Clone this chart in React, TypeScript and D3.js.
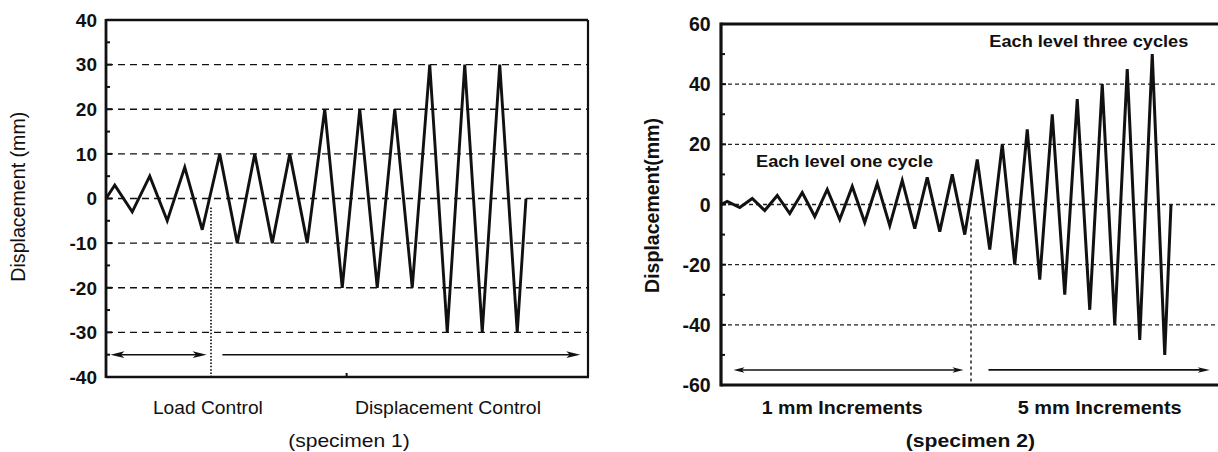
import React from 'react';
import * as d3 from 'd3';

// ---------- Specimen 1 (left) ----------
// time in quarter-cycles, displacement in mm
const time1 = [0, 1, 3, 5, 7, 9, 11, 13, 15, 17, 19, 21, 23, 25, 27, 29, 31, 33, 35, 37, 39, 41, 43, 45, 47, 48];
const disp1 = [0, 3, -3, 5, -5, 7, -7, 10, -10, 10, -10, 10, -10, 20, -20, 20, -20, 20, -20, 30, -30, 30, -30, 30, -30, 0];
const yTickLabels1 = [-40, -30, -20, -10, 0, 10, 20, 30, 40];
const yMinor1 = [-35, -25, -15, -5, 5, 15, 25, 35];
const grid1 = [-30, -20, -10, 0, 10, 20, 30];
const xTicks1 = [27.5];
const split1 = 12;

// ---------- Specimen 2 (right) ----------
const time2 = [0, 1, 3, 5, 7, 9, 11, 13, 15, 17, 19, 21, 23, 25, 27, 29, 31, 33, 35, 37, 39, 41, 43, 45, 47, 49, 51, 53, 55, 57, 59, 61, 63, 65, 67, 69, 71, 72];
const disp2 = [0, 1, -1, 2, -2, 3, -3, 4, -4, 5, -5, 6, -6, 7, -7, 8, -8, 9, -9, 10, -10, 15, -15, 20, -20, 25, -25, 30, -30, 35, -35, 40, -40, 45, -45, 50, -50, 0];
const yTickLabels2 = [-60, -40, -20, 0, 20, 40, 60];
const yMinor2 = [-50, -30, -10, 10, 30, 50];
const grid2 = [-40, -20, 0, 20, 40];
const split2 = 40;

const FONT = "'Liberation Sans', Arial, Helvetica, sans-serif";
const INK = '#111';

function arrowHead(x: number, y: number, dir: number, len: number, hw: number) {
  // dir: +1 pointing right, -1 pointing left; tip at (x,y)
  return `M${x},${y} L${x - dir * len},${y - hw} L${x - dir * len * 0.75},${y} L${x - dir * len},${y + hw} Z`;
}

export default function App() {
  const x1 = d3.scaleLinear().domain([0, 55]).range([106, 587.25]);
  const y1 = d3.scaleLinear().domain([-40, 40]).range([377, 20]);
  const x2 = d3.scaleLinear().domain([0, 80]).range([721, 1221]);
  const y2 = d3.scaleLinear().domain([-60, 60]).range([385, 24]);

  const line1 = d3.line<number>().x((_, i) => x1(time1[i])).y((d) => y1(d))(disp1) || '';
  const line2 = d3.line<number>().x((_, i) => x2(time2[i])).y((d) => y2(d))(disp2) || '';

  const L = { l: 106, r: 588, t: 20, b: 377 };
  const R = { l: 721, r: 1218, t: 24, b: 385 };

  const a1y = y1(-35);
  const a1L0 = x1(0.5), a1L1 = x1(11.5), a1R0 = x1(13.3), a1R1 = x1(54.2);
  const a2y = y2(-55);
  const a2L0 = x2(2), a2L1 = x2(38.8), a2R0 = x2(42.8), a2R1 = x2(78.2);

  return (
    <svg
      width={1218}
      height={452}
      style={{ position: 'absolute', left: 0, top: 0, background: '#fff' }}
      fontFamily={FONT}
    >
      <rect x={0} y={0} width={1218} height={452} fill="#fff" />

      {/* ===================== LEFT CHART ===================== */}
      <g>
        {grid1.map((v) => (
          <line key={'g1' + v} x1={L.l} x2={L.r} y1={y1(v)} y2={y1(v)} stroke="#111" strokeWidth={1.4} strokeDasharray="7 5" />
        ))}
        <line x1={x1(split1)} x2={x1(split1)} y1={y1(-2)} y2={L.b} stroke="#111" strokeWidth={1.7} strokeDasharray="1.5 1.8" />
        <line x1={L.l} x2={L.r} y1={L.t} y2={L.t} stroke={INK} strokeWidth={2.4} />
        <line x1={L.r} x2={L.r} y1={L.t} y2={L.b} stroke={INK} strokeWidth={2.2} />
        <line x1={L.l} x2={L.r + 1} y1={L.b} y2={L.b} stroke={INK} strokeWidth={2.6} />
        <line x1={L.l} x2={L.l} y1={L.t - 1} y2={L.b + 1} stroke={INK} strokeWidth={2.8} />
        {yMinor1.map((v) => (
          <line key={'m1' + v} x1={L.l} x2={L.l + 4} y1={y1(v)} y2={y1(v)} stroke={INK} strokeWidth={2} />
        ))}
        {yTickLabels1.map((v) => (
          <line key={'t1' + v} x1={L.l} x2={L.l + 6} y1={y1(v)} y2={y1(v)} stroke={INK} strokeWidth={2} />
        ))}
        {xTicks1.map((v) => (
          <line key={'x1' + v} x1={x1(v)} x2={x1(v)} y1={L.b} y2={L.b - 4} stroke={INK} strokeWidth={2} />
        ))}
        {yTickLabels1.map((v) => (
          <text key={'l1' + v} x={97} y={y1(v) + 6.8} textAnchor="end" fontSize={19} fontWeight="bold" fill={INK}>
            {v}
          </text>
        ))}
        <path d={line1} fill="none" stroke={INK} strokeWidth={2.9} strokeLinejoin="miter" strokeMiterlimit={4} />
        <line x1={a1L0 + 6} x2={a1L1 - 6} y1={a1y} y2={a1y} stroke={INK} strokeWidth={1.5} />
        <path d={arrowHead(a1L0, a1y, -1, 14, 3.4)} fill={INK} />
        <path d={arrowHead(a1L1, a1y, 1, 14, 3.4)} fill={INK} />
        <line x1={a1R0} x2={a1R1 - 6} y1={a1y} y2={a1y} stroke={INK} strokeWidth={1.5} />
        <path d={arrowHead(a1R1, a1y, 1, 14, 3.4)} fill={INK} />
        <text
          transform={`translate(24.5,196.7) rotate(-90)`}
          textAnchor="middle"
          fontSize={19.5}
          fill={INK}
          textLength={170}
          lengthAdjust="spacingAndGlyphs"
        >
          Displacement (mm)
        </text>
        <text x={207.9} y={413.5} textAnchor="middle" fontSize={19} fill={INK} textLength={110} lengthAdjust="spacingAndGlyphs">
          Load Control
        </text>
        <text x={448} y={413.5} textAnchor="middle" fontSize={19} fill={INK} textLength={186} lengthAdjust="spacingAndGlyphs">
          Displacement Control
        </text>
        <text x={349} y={447} textAnchor="middle" fontSize={19} fill={INK} textLength={121.7} lengthAdjust="spacingAndGlyphs">
          (specimen 1)
        </text>
      </g>

      {/* ===================== RIGHT CHART ===================== */}
      <g>
        {grid2.map((v) => (
          <line key={'g2' + v} x1={R.l} x2={R.r} y1={y2(v)} y2={y2(v)} stroke="#222" strokeWidth={1.3} strokeDasharray="4 3" />
        ))}
        <line x1={x2(split2)} x2={x2(split2)} y1={y2(-4)} y2={R.b} stroke="#222" strokeWidth={1.5} strokeDasharray="3 3" />
        <line x1={R.l} x2={R.r} y1={R.t} y2={R.t} stroke={INK} strokeWidth={2.8} />
        <line x1={R.l} x2={R.r} y1={R.b} y2={R.b} stroke={INK} strokeWidth={3} />
        <line x1={R.l} x2={R.l} y1={R.t - 1.4} y2={R.b + 1.5} stroke={INK} strokeWidth={3.2} />
        {yMinor2.map((v) => (
          <line key={'m2' + v} x1={R.l} x2={R.l + 4} y1={y2(v)} y2={y2(v)} stroke={INK} strokeWidth={2} />
        ))}
        {yTickLabels2.map((v) => (
          <line key={'t2' + v} x1={R.l} x2={R.l + 5} y1={y2(v)} y2={y2(v)} stroke={INK} strokeWidth={2} />
        ))}
        {yTickLabels2.map((v) => (
          <text key={'l2' + v} x={710.7} y={y2(v) + 7} textAnchor="end" fontSize={19.5} fontWeight="bold" fill={INK}>
            {v}
          </text>
        ))}
        <path d={line2} fill="none" stroke={INK} strokeWidth={3} strokeLinejoin="miter" strokeMiterlimit={4} />
        <line x1={a2L0 + 5} x2={a2L1 - 5} y1={a2y} y2={a2y} stroke={INK} strokeWidth={1.5} />
        <path d={arrowHead(a2L0, a2y, -1, 11, 2.8)} fill={INK} />
        <path d={arrowHead(a2L1, a2y, 1, 11, 2.8)} fill={INK} />
        <line x1={a2R0} x2={a2R1 - 5} y1={a2y} y2={a2y} stroke={INK} strokeWidth={1.7} />
        <path d={arrowHead(a2R1, a2y, 1, 12, 2.8)} fill={INK} />
        <text
          transform={`translate(658.5,205.5) rotate(-90)`}
          textAnchor="middle"
          fontSize={19.5}
          fontWeight="bold"
          fill={INK}
          textLength={175}
          lengthAdjust="spacingAndGlyphs"
        >
          Displacement(mm)
        </text>
        <text x={756} y={167.3} fontSize={16.5} fontWeight="bold" fill={INK} textLength={177} lengthAdjust="spacingAndGlyphs">
          Each level one cycle
        </text>
        <text x={989.3} y={47.3} fontSize={16.5} fontWeight="bold" fill={INK} textLength={199} lengthAdjust="spacingAndGlyphs">
          Each level three cycles
        </text>
        <text x={761.7} y={413.5} fontSize={19} fontWeight="bold" fill={INK} textLength={161} lengthAdjust="spacingAndGlyphs">
          1 mm Increments
        </text>
        <text x={1017.7} y={413.5} fontSize={19} fontWeight="bold" fill={INK} textLength={164} lengthAdjust="spacingAndGlyphs">
          5 mm Increments
        </text>
        <text x={905.7} y={446.5} fontSize={19} fontWeight="bold" fill={INK} textLength={129.3} lengthAdjust="spacingAndGlyphs">
          (specimen 2)
        </text>
      </g>
    </svg>
  );
}
